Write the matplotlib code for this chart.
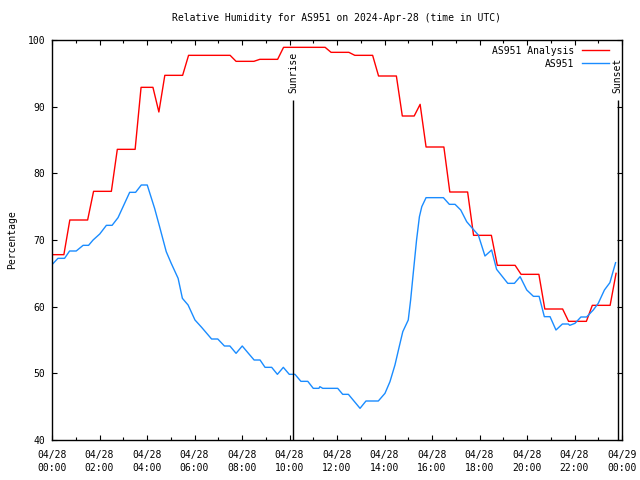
import matplotlib
matplotlib.use('Agg')
import matplotlib.pyplot as plt
from matplotlib.ticker import MultipleLocator

# hours since 2024-04-28 00:00 UTC and relative humidity (%)
analysis_hours = [0, 0.5, 0.75, 1.5, 1.75, 2.5, 2.75, 3.5, 3.75, 4.25, 4.5, 4.75,
                  5.5, 5.75, 7.5, 7.75, 8.5, 8.75, 9.5, 9.75, 11.5, 11.75, 12.5,
                  12.75, 13.5, 13.75, 14.5, 14.75, 15.25, 15.5, 15.75, 16.5, 16.75,
                  17.5, 17.75, 18.5, 18.75, 19.5, 19.75, 20.5, 20.75, 21.5, 21.75,
                  22.5, 22.75, 23.5, 23.75]
analysis_rh = [67.8, 67.8, 73.0, 73.0, 77.3, 77.3, 83.6, 83.6, 92.9, 92.9, 89.2, 94.7,
               94.7, 97.7, 97.7, 96.8, 96.8, 97.1, 97.1, 98.9, 98.9, 98.15, 98.15,
               97.7, 97.7, 94.6, 94.6, 88.6, 88.6, 90.35, 83.95, 83.95, 77.2,
               77.2, 70.7, 70.7, 66.2, 66.2, 64.85, 64.85, 59.65, 59.65, 57.8,
               57.8, 60.2, 60.2, 65.0]

obs_hours = [0.0, 0.25, 0.53, 0.74, 1.02, 1.31, 1.54, 1.73, 2.01, 2.29, 2.53, 2.78,
             3.27, 3.52, 3.76, 4.01, 4.32, 4.53, 4.81, 5.02, 5.31, 5.49, 5.73, 6.02,
             6.30, 6.72, 6.98, 7.26, 7.49, 7.75, 8.01, 8.27, 8.51, 8.76, 8.97, 9.25,
             9.49, 9.74, 9.99, 10.23, 10.48, 10.77, 11.0, 11.24, 11.28, 11.40, 12.03,
             12.24, 12.48, 12.97, 13.22, 13.74, 14.02, 14.23, 14.44, 14.62, 14.77,
             15.0, 15.10, 15.21, 15.35, 15.47, 15.57, 15.75, 16.48, 16.73, 16.97,
             17.21, 17.46, 17.70, 17.95, 18.23, 18.51, 18.72, 19.19, 19.47, 19.71,
             19.99, 20.27, 20.51, 20.73, 20.97, 21.22, 21.49, 21.74, 21.80, 22.02,
             22.27, 22.51, 22.79, 23.0, 23.26, 23.49, 23.73]
obs_rh = [66.3, 67.25, 67.25, 68.35, 68.35, 69.2, 69.2, 70.0, 70.9, 72.2, 72.2, 73.35,
          77.15, 77.15, 78.25, 78.25, 74.75, 72.0, 68.25, 66.5, 64.25, 61.25, 60.25, 58.0,
          56.9, 55.15, 55.15, 54.1, 54.1, 53.0, 54.1, 53.0, 52.0, 52.0, 50.9, 50.9,
          49.85, 50.9, 49.85, 49.85, 48.8, 48.8, 47.75, 47.75, 48.0, 47.75, 47.75,
          46.85, 46.85, 44.75, 45.85, 45.85, 47.0, 48.75, 51.25, 54.0, 56.25,
          58.0, 61.0, 65.0, 70.0, 73.5, 75.0, 76.35, 76.35, 75.35, 75.35,
          74.5, 72.75, 71.75, 70.75, 67.6, 68.5, 65.6, 63.5, 63.5, 64.5,
          62.5, 61.55, 61.55, 58.5, 58.5, 56.5, 57.4, 57.4, 57.2, 57.5,
          58.45, 58.45, 59.5, 60.5, 62.5, 63.6, 66.6]

sun_events = ['Sunrise', 'Sunset']
sun_hours = [10.16, 23.82]

tick_hours = list(range(0, 25, 2))
tick_labels = ['04/28\n%02d:00' % h for h in range(0, 24, 2)] + ['04/29\n00:00']

plt.rcParams['font.family'] = ['DejaVu Sans Mono']
plt.rcParams['font.size'] = 7

fig = plt.figure(figsize=(6.4, 4.8), dpi=100)
ax = fig.add_axes([52 / 640, 40 / 480, 570 / 640, 400 / 480])

ax.plot(analysis_hours, analysis_rh, color='#ff0000', lw=1.0, label='AS951 Analysis')
ax.plot(obs_hours, obs_rh, color='#1a8cff', lw=1.0, label='AS951')

for name, h in zip(sun_events, sun_hours):
    ax.vlines(h, 40, 91, color='black', lw=1.0)
    ax.text(h, 92, name, rotation=90, ha='center', va='bottom', fontsize=7)

ax.set_xlim(0, 24)
ax.set_ylim(40, 100)
ax.set_xticks(tick_hours)
ax.set_xticklabels(tick_labels, linespacing=1.35)
ax.xaxis.set_minor_locator(MultipleLocator(1))
ax.yaxis.set_major_locator(MultipleLocator(10))
ax.tick_params(which='both', direction='in', top=True, right=True, width=0.8)
ax.tick_params(which='major', length=3.5, pad=5)
ax.tick_params(axis='x', which='major', pad=7)
ax.tick_params(which='minor', length=2.5)
for s in ax.spines.values():
    s.set_linewidth(1.0)

ax.set_title('Relative Humidity for AS951 on 2024-Apr-28 (time in UTC)', fontsize=7, pad=14)
fig.text(12 / 640, 0.5, 'Percentage', rotation=90, ha='center', va='center', fontsize=7)

ax.legend(loc='upper right', frameon=False, markerfirst=False, handlelength=2.8,
          handletextpad=0.8, labelspacing=0.3, borderaxespad=0.3,
          bbox_to_anchor=(1 - 6 / 570, 1.0 + 1 / 400), fontsize=7)

fig.savefig('out.png', dpi=100)
